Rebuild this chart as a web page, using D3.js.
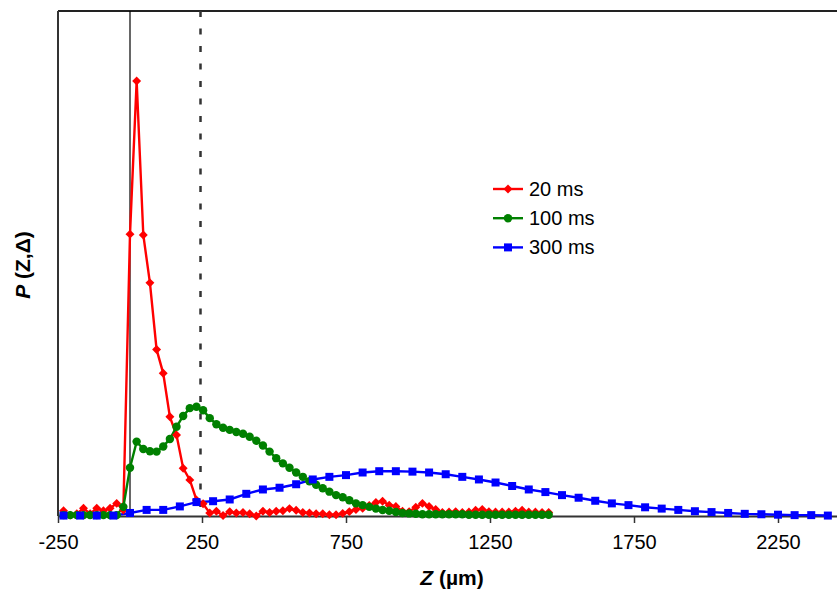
<!DOCTYPE html>
<html>
<head>
<meta charset="utf-8">
<script src="https://cdn.jsdelivr.net/npm/d3@7/dist/d3.min.js"></script>
<style>
    body { margin: 0; background: #fff; }
    #chart-area svg { display: block; overflow: hidden; font-family: "Liberation Sans", Arial, sans-serif; }
    .axis path, .axis line { stroke: #333; }
    .axis text { font-size: 20px; fill: #000; }
    .axis-title { font-size: 21px; font-weight: bold; }
    .legend-label { font-size: 20px; }
</style>
</head>
<body>
<div id="chart-area"></div>
<script>

// Z positions (µm) shared by the 20 ms and 100 ms profiles
var zFine = [-230.8, -207.7, -184.6, -161.5, -138.5, -115.4, -92.3, -69.2, -46.2, -23.1,
    0, 23.1, 46.2, 69.2, 92.3, 115.4, 138.5, 161.5, 184.6, 207.7,
    230.8, 253.8, 276.9, 300, 323.1, 346.2, 369.2, 392.3, 415.4, 438.5,
    461.5, 484.6, 507.7, 530.8, 553.8, 576.9, 600, 623.1, 646.2, 669.2,
    692.3, 715.4, 738.5, 761.5, 784.6, 807.7, 830.8, 853.8, 876.9, 900,
    923.1, 946.2, 969.2, 992.3, 1015.4, 1038.5, 1061.5, 1084.6, 1107.7, 1130.8,
    1153.8, 1176.9, 1200, 1223.1, 1246.2, 1269.2, 1292.3, 1315.4, 1338.5, 1361.5,
    1384.6, 1407.7, 1430.8, 1453.8];

var p20ms = [0.012, 0.002, 0.005, 0.018, 0.005, 0.018, 0.012, 0.018, 0.029, 0.014,
    0.648, 1.000, 0.646, 0.536, 0.383, 0.328, 0.228, 0.186, 0.110, 0.083,
    0.037, 0.028, 0.007, 0.011, 0.001, 0.010, 0.007, 0.008, 0.005, 0.000,
    0.011, 0.008, 0.011, 0.012, 0.017, 0.013, 0.008, 0.007, 0.005, 0.005,
    0.003, 0.003, 0.006, 0.010, 0.015, 0.018, 0.024, 0.031, 0.034, 0.025,
    0.022, 0.011, 0.010, 0.020, 0.029, 0.022, 0.015, 0.008, 0.009, 0.010,
    0.008, 0.009, 0.013, 0.015, 0.010, 0.009, 0.009, 0.009, 0.011, 0.013,
    0.009, 0.009, 0.008, 0.008];

var p100ms = [0.002, 0.002, 0.002, 0.002, 0.002, 0.002, 0.002, 0.002, 0.002, 0.021,
    0.111, 0.171, 0.154, 0.149, 0.148, 0.160, 0.177, 0.205, 0.230, 0.248,
    0.251, 0.243, 0.225, 0.211, 0.203, 0.198, 0.193, 0.189, 0.182, 0.173,
    0.162, 0.148, 0.133, 0.121, 0.111, 0.100, 0.090, 0.080, 0.072, 0.064,
    0.056, 0.048, 0.043, 0.036, 0.029, 0.025, 0.021, 0.017, 0.014, 0.012,
    0.009, 0.007, 0.006, 0.005, 0.004, 0.004, 0.004, 0.004, 0.004, 0.004,
    0.004, 0.003, 0.003, 0.003, 0.003, 0.003, 0.003, 0.003, 0.003, 0.003,
    0.003, 0.003, 0.003, 0.003];

// Z positions (µm) of the 300 ms profile
var zCoarse = [-230.8, -173.1, -115.4, -57.7, 0, 57.7, 115.4, 173.1, 230.8, 288.5,
    346.2, 403.8, 461.5, 519.2, 576.9, 634.6, 692.3, 750, 807.7, 865.4,
    923.1, 980.8, 1038.5, 1096.2, 1153.8, 1211.5, 1269.2, 1326.9, 1384.6, 1442.3,
    1500, 1557.7, 1615.4, 1673.1, 1730.8, 1788.5, 1846.2, 1903.8, 1961.5, 2019.2,
    2076.9, 2134.6, 2192.3, 2250, 2307.7, 2365.4, 2423.1];

var p300ms = [0.001, 0.001, 0.001, 0.001, 0.007, 0.014, 0.014, 0.022, 0.032, 0.034,
    0.038, 0.051, 0.061, 0.065, 0.073, 0.084, 0.090, 0.094, 0.100, 0.103,
    0.103, 0.102, 0.100, 0.096, 0.090, 0.084, 0.077, 0.069, 0.061, 0.055,
    0.048, 0.042, 0.035, 0.029, 0.025, 0.020, 0.017, 0.014, 0.011, 0.009,
    0.007, 0.005, 0.004, 0.003, 0.002, 0.002, 0.001];

var seriesNames = ["20 ms", "100 ms", "300 ms"];
var seriesColors = ["#ff0000", "#008000", "#0000ff"];

// square diamond like the spreadsheet marker (d3's own is elongated)
var symbolRhomb = {
    draw: function(context, size) {
        var r = Math.sqrt(size / 2);
        context.moveTo(0, -r);
        context.lineTo(r, 0);
        context.lineTo(0, r);
        context.lineTo(-r, 0);
        context.closePath();
    }
};
var seriesSymbols = [symbolRhomb, d3.symbolCircle, d3.symbolSquare];
var symbolSizes = [40, 56, 64];

var xTicks = [-250, 250, 750, 1250, 1750, 2250];
var xDomain = [-250, 2750];
var yDomain = [0, 1.161];
var markerLines = [0, 250];   // solid at Z = 0, dashed at Z = 250


ProfileVis = function(_parentElement) {
    this.parentElement = _parentElement;
    this.displayData = [];
    this.initVis();
};

ProfileVis.prototype.initVis = function() {
    var vis = this;
    vis.margin = {top: 11, right: 0, bottom: 73, left: 58};

    vis.width = 837 - vis.margin.left - vis.margin.right;
    vis.height = 589 - vis.margin.top - vis.margin.bottom;

    vis.svg = d3.select("#" + vis.parentElement).append("svg")
        .attr("width", 837)
        .attr("height", 589)
        .append("g")
        .attr("transform", "translate(" + vis.margin.left + "," + vis.margin.top + ")");

    // one major unit (500 µm) = 144 px, so the plot runs past the window edge
    vis.xScale = d3.scaleLinear()
        .domain(xDomain)
        .range([0, 864]);

    vis.yScale = d3.scaleLinear()
        .domain(yDomain)
        .range([vis.height, 0]);

    vis.xAxis = d3.axisBottom()
        .scale(vis.xScale)
        .tickValues(xTicks)
        .tickSize(7)
        .tickSizeOuter(0)
        .tickPadding(12)
        .tickFormat(function(d) { return String(d); });

    // frame: top border and left axis
    vis.svg.append("line")
        .attr("x1", 0).attr("x2", 864)
        .attr("y1", 0).attr("y2", 0)
        .attr("stroke", "#222").attr("stroke-width", 2);

    vis.svg.append("line")
        .attr("x1", 0).attr("x2", 0)
        .attr("y1", 0).attr("y2", vis.height)
        .attr("stroke", "#333").attr("stroke-width", 2);

    // reference lines
    vis.svg.append("line")
        .attr("class", "origin-line")
        .attr("x1", vis.xScale(markerLines[0])).attr("x2", vis.xScale(markerLines[0]))
        .attr("y1", 0).attr("y2", vis.height)
        .attr("stroke", "#000").attr("stroke-width", 1.2);

    vis.svg.append("line")
        .attr("class", "edge-line")
        .attr("x1", vis.xScale(markerLines[1]) - 1.5).attr("x2", vis.xScale(markerLines[1]) - 1.5)
        .attr("y1", 0).attr("y2", vis.height)
        .attr("stroke", "#333").attr("stroke-width", 2.5)
        .attr("stroke-dasharray", "6,11.5");

    vis.svg.append("g")
        .attr("class", "x-axis axis")
        .attr("transform", "translate(0," + vis.height + ")")
        .call(vis.xAxis);

    vis.svg.selectAll(".x-axis path").attr("stroke-width", 2);
    vis.svg.selectAll(".x-axis line").attr("stroke-width", 1.5);

    vis.line = d3.line()
        .x(function(d) { return vis.xScale(d.z); })
        .y(function(d) { return vis.yScale(d.p); })
        .curve(d3.curveLinear);

    // axis titles
    var xTitle = vis.svg.append("text")
        .attr("class", "axis-title")
        .attr("x", 394)
        .attr("y", vis.height + 69)
        .attr("text-anchor", "middle");
    xTitle.append("tspan").attr("font-style", "italic").text("Z");
    xTitle.append("tspan").text(" (µm)");

    var yTitle = vis.svg.append("text")
        .attr("class", "axis-title")
        .attr("transform", "translate(-28," + (265 - vis.margin.top) + "), rotate(-90)")
        .attr("text-anchor", "middle");
    yTitle.append("tspan").attr("font-style", "italic").text("P");
    yTitle.append("tspan").text(" (Z,Δ)");

    vis.wrangleData();
};

ProfileVis.prototype.wrangleData = function() {
    var vis = this;

    var zs = [zFine, zFine, zCoarse];
    var ps = [p20ms, p100ms, p300ms];

    vis.displayData = seriesNames.map(function(name, i) {
        return {
            key: name,
            color: seriesColors[i],
            symbol: d3.symbol().type(seriesSymbols[i]).size(symbolSizes[i]),
            values: zs[i].map(function(z, j) { return {z: z, p: ps[i][j]}; })
        };
    });

    vis.updateVis();
};

ProfileVis.prototype.updateVis = function() {
    var vis = this;

    // all lines first, then the markers on top
    vis.svg.selectAll(".chart-line")
        .data(vis.displayData)
        .enter().append("path")
        .attr("class", "chart-line")
        .attr("fill", "none")
        .attr("stroke", function(d) { return d.color; })
        .attr("stroke-width", 2.4)
        .attr("d", function(d) { return vis.line(d.values); });

    var markerGroups = vis.svg.selectAll(".marker-group")
        .data(vis.displayData)
        .enter().append("g")
        .attr("class", "marker-group");

    markerGroups.selectAll("path")
        .data(function(d) {
            return d.values.map(function(v) { return {z: v.z, p: v.p, s: d}; });
        })
        .enter().append("path")
        .attr("transform", function(d) {
            return "translate(" + vis.xScale(d.z) + "," + vis.yScale(d.p) + ")";
        })
        .attr("d", function(d) { return d.s.symbol(); })
        .attr("fill", function(d) { return d.s.color; });

    // legend
    var legend = vis.svg.selectAll(".legend-item")
        .data(vis.displayData)
        .enter().append("g")
        .attr("class", "legend-item")
        .attr("transform", function(d, i) {
            return "translate(" + (493 - vis.margin.left) + "," + (189 + i * 29.2 - vis.margin.top) + ")";
        });

    legend.append("line")
        .attr("x1", 0).attr("x2", 30)
        .attr("stroke", function(d) { return d.color; })
        .attr("stroke-width", 2.4);

    legend.append("path")
        .attr("transform", "translate(15,0)")
        .attr("d", function(d) { return d.symbol(); })
        .attr("fill", function(d) { return d.color; });

    legend.append("text")
        .attr("class", "legend-label")
        .attr("x", 36)
        .attr("y", 7)
        .text(function(d) { return d.key; });
};

new ProfileVis("chart-area");

</script>
</body>
</html>
